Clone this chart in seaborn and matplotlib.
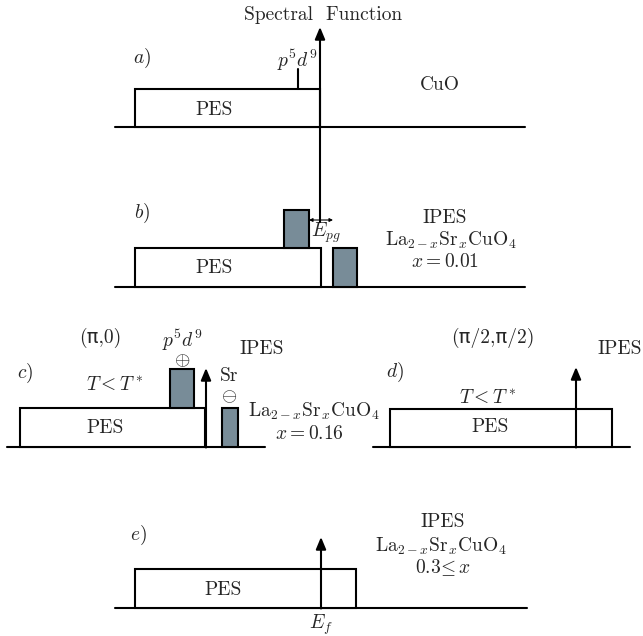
import matplotlib
matplotlib.use("Agg")
import matplotlib.pyplot as plt
import seaborn as sns

# esquema de funciones espectrales (PES / IPES) para CuO y La2-xSrxCuO4
panel_names = ["a", "b", "c", "d", "e"]

# continuo PES: borde izquierdo / derecho respecto a E_f, y altura
pes_left = [-185, -185, -186, -186, -186]
pes_right = [0, 1, -1, 36, 35]
pes_height = [38, 39, 39, 38, 39]

# picos grises (estados en el gap)
peak_panel = ["b", "b", "c", "c"]
peak_left = [-36, 13, -36, 16]
peak_right = [-11, 37, -12, 32]
peak_bottom = [39, 0, 39, 0]
peak_top = [77, 39, 78, 39]

# peso espectral en E_f (flecha), panel a/b comparten una sola flecha
arrow_panel = ["c", "d", "e"]
arrow_height = [79, 80, 71]

# textos de cada panel
sample_labels = ["CuO", "IPES", "IPES", "IPES", "IPES"]
doping_labels = ["", r"$x = 0.01$", r"$x = 0.16$", "", r"$0.3\!\leq x$"]

# posición de cada panel en la figura (E_f en x, línea base en y) en píxeles
layout = {"a": (320, 127), "b": (320, 287), "c": (206, 447),
          "d": (576, 447), "e": (321, 608)}
base_span = {"a": (-205, 205), "b": (-205, 205), "c": (-199, 59),
             "d": (-203, 54), "e": (-206, 206)}

sns.set_theme(style="white")
plt.rcParams["mathtext.fontset"] = "cm"
plt.rcParams["font.family"] = ["cmr10", "DejaVu Sans"]
plt.rcParams["axes.formatter.use_mathtext"] = True

fig = plt.figure(figsize=(6.43, 6.36), dpi=100)
ax = fig.add_axes([0, 0, 1, 1])
ax.set_xlim(0, 643)
ax.set_ylim(636, 0)
ax.axis("off")

gris = "#788c98"
fs = 14
lw = 1.5

for i, p in enumerate(panel_names):
    ef, base = layout[p]
    x0, x1 = base_span[p]
    ax.plot([ef + x0, ef + x1], [base, base], color="black", lw=lw, zorder=1)
    ax.bar(ef + pes_left[i], -pes_height[i], width=pes_right[i] - pes_left[i],
           bottom=base, align="edge", facecolor="white", edgecolor="black",
           linewidth=lw, zorder=2)

for p, l, r, b, t in zip(peak_panel, peak_left, peak_right, peak_bottom, peak_top):
    ef, base = layout[p]
    ax.bar(ef + l, -(t - b), width=r - l, bottom=base - b, align="edge",
           facecolor=gris, edgecolor="black", linewidth=lw, zorder=3)

for p, h in zip(arrow_panel, arrow_height):
    ef, base = layout[p]
    ax.annotate("", xy=(ef, base - h), xytext=(ef, base + 0.5),
                arrowprops=dict(arrowstyle="-|>,head_length=0.6,head_width=0.25",
                                lw=lw, color="black",
                                mutation_scale=12, shrinkA=0, shrinkB=0), zorder=4)

# eje vertical largo de a) y b)
ax.annotate("", xy=(320, 27), xytext=(320, 222),
            arrowprops=dict(arrowstyle="-|>,head_length=0.6,head_width=0.25",
                            lw=lw, color="black",
                            mutation_scale=12, shrinkA=0, shrinkB=0), zorder=4)
# E_pg
ax.annotate("", xy=(309, 220), xytext=(333, 220),
            arrowprops=dict(arrowstyle="<|-|>", lw=0.8, color="black",
                            mutation_scale=5, shrinkA=0, shrinkB=0), zorder=4)
# marca p5d9 en a)
ax.plot([298, 298], [89, 69], color="black", lw=lw)

def txt(x, y, s, **kw):
    ax.text(x, y, s, ha="center", va="center", fontsize=fs, **kw)

txt(323, 15, "Spectral  Function")

# a)
txt(142, 58, r"$a)$")
txt(297, 60, r"$p^5d^9$")
txt(440, 85, sample_labels[0])
txt(214, 110, "PES")

# b)
txt(142, 213, r"$b)$")
txt(326, 233, r"$E_{pg}$")
txt(445, 218, sample_labels[1])
txt(451, 240, r"$\mathrm{La}_{2-x}\mathrm{Sr}_x\mathrm{CuO}_4$")
txt(445, 262, doping_labels[1])
txt(214, 268, "PES")

# c)
txt(100, 338, "(π,0)")
txt(182, 340, r"$p^5d^9$")
txt(182, 360, r"$\oplus$")
txt(25, 373, r"$c)$")
txt(115, 385, r"$T<T^*$")
txt(229, 376, "Sr")
txt(229, 396, r"$\ominus$")
txt(262, 349, sample_labels[2])
txt(314, 411, r"$\mathrm{La}_{2-x}\mathrm{Sr}_x\mathrm{CuO}_4$")
txt(309, 434, doping_labels[2])
txt(105, 428, "PES")

# d)
txt(493, 338, "(π/2,π/2)")
txt(620, 349, sample_labels[3])
txt(395, 372, r"$d)$")
txt(488, 398, r"$T<T^*$")
txt(490, 427, "PES")

# e)
txt(138, 535, r"$e)$")
txt(443, 522, sample_labels[4])
txt(441, 546, r"$\mathrm{La}_{2-x}\mathrm{Sr}_x\mathrm{CuO}_4$")
txt(443, 568, doping_labels[4])
txt(223, 590, "PES")
txt(321, 625, r"$E_f$")

plt.savefig("out.png", dpi=100)
plt.close()
